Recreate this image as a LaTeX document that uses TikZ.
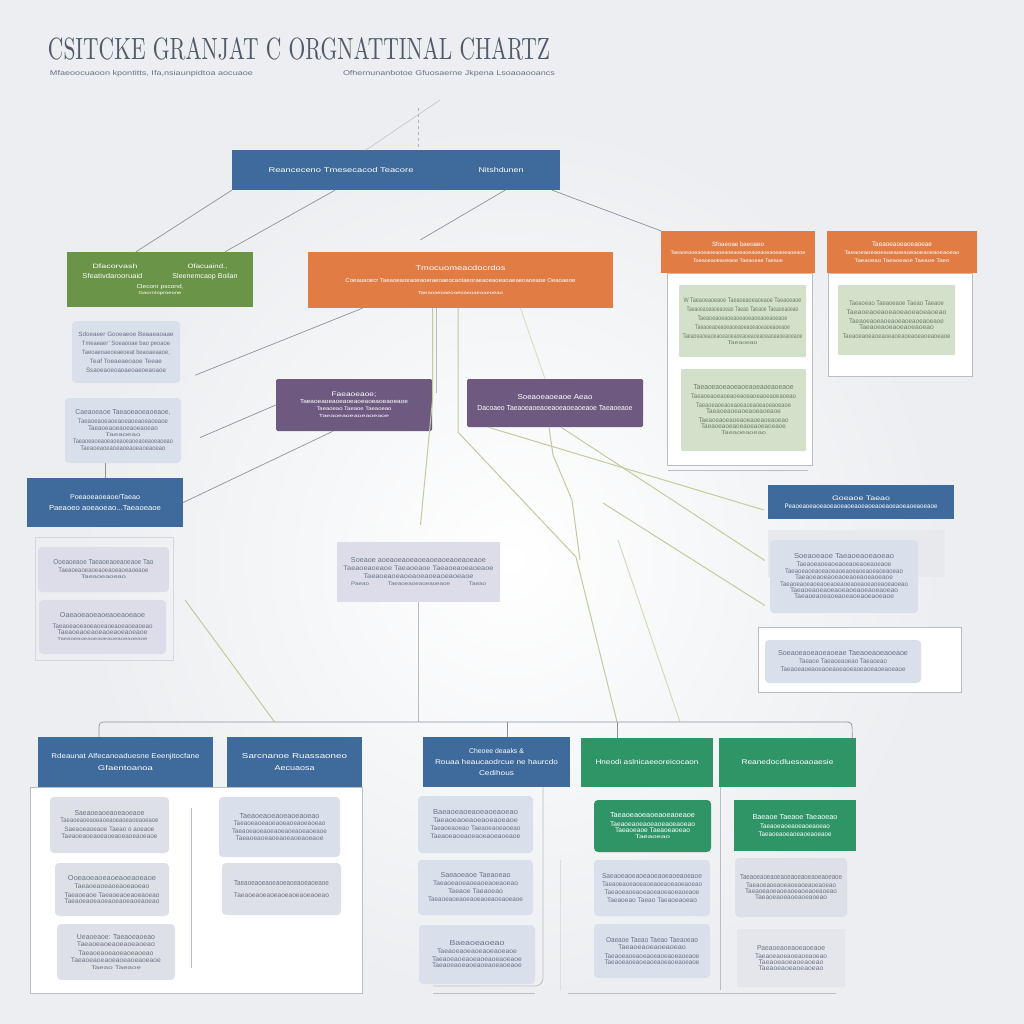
\documentclass[tikz,border=0pt]{standalone}
\usepackage{fontspec}
\setmainfont{Liberation Sans}
\usepackage{graphicx}
\usetikzlibrary{calc}
\newcommand\txl[3][4.5]{\resizebox{#2pt}{#1pt}{#3}}
\definecolor{cBg}{HTML}{ECEEF1}
\definecolor{cBlue}{HTML}{3E6A9C}
\definecolor{cGreen}{HTML}{6A9447}
\definecolor{cOrange}{HTML}{E17C45}
\definecolor{cPurple}{HTML}{6E5A80}
\definecolor{cTeal}{HTML}{2F9566}
\definecolor{cCard}{HTML}{D9DFEB}
\definecolor{cLav}{HTML}{DCDDE9}
\definecolor{cGCard}{HTML}{D3E1CA}
\definecolor{cGray}{HTML}{DDE0E6}
\definecolor{cTxt}{HTML}{6A7284}
\definecolor{cGTxt}{HTML}{6A7D68}
\definecolor{cLine}{HTML}{8C929C}
\definecolor{cGLine}{HTML}{C3CB9C}
\definecolor{cFrame}{HTML}{B8BDC6}
\definecolor{cTitle}{HTML}{525A6A}
\tikzset{
  dk/.style={inner sep=0pt, align=center, text=white, font=\fontsize{4}{10}\selectfont},
  bluebox/.style={dk, fill=cBlue},
  greenbox/.style={dk, fill=cGreen},
  orangebox/.style={dk, fill=cOrange},
  purplebox/.style={dk, fill=cPurple, rounded corners=1.5pt},
  tealbox/.style={dk, fill=cTeal},
  card/.style={inner sep=0pt, align=center, text=cTxt, fill=cCard, rounded corners=4pt, font=\fontsize{4}{10}\selectfont},
  lav/.style={card, fill=cLav},
  gcard/.style={card, fill=cGCard, text=cGTxt},
  graycard/.style={card, fill=cGray},
  tcard/.style={card, fill=cTeal, text=white},
  conn/.style={draw=cLine, line width=0.7pt},
  gconn/.style={draw=cGLine, line width=1pt},
  frame/.style={draw=cFrame, line width=0.8pt},
}
\begin{document}
\begin{tikzpicture}[x=1pt,y=-1pt]
\useasboundingbox (0,0) rectangle (1024,1024);
\fill[cBg] (0,0) rectangle (1024,1024);
\shade[inner color=white, outer color=cBg] (80,120) rectangle (944,1000);

% title
\node[inner sep=0pt, text=cTitle] (title) at (299,49) {\resizebox{502pt}{22pt}{\fontfamily{lmr}\selectfont CSITCKE GRANJAT C ORGNATTINAL CHARTZ}};
\node[inner sep=0pt, text=cTxt] (sub1) at (151.5,73.5) {\txl[5]{203}{Mfaeoocuaoon kpontitts, Ifa,nsiaunpidtoa aocuaoe}};
\node[inner sep=0pt, text=cTxt] (sub2) at (449,73.5) {\txl[5]{212}{Ofhernunanbotoe Gfuosaerne Jkpena Lsoaoaooancs}};

% frames (panels)
\draw[frame, fill=white] (667,273) rectangle (812,465);
\draw[frame] (668,470) -- (808,470);
\draw[frame, fill=white] (828,273) rectangle (972,376);
\draw[frame, fill=white] (758,627) rectangle (961,692);
\fill[cGray!70] (768,530) rectangle (945,577);
\draw[frame, draw=cFrame!60] (35,537) rectangle (173,660);
\draw[frame, fill=white] (30,787) rectangle (362,993);
\draw[frame] (191,808) -- (191,968);
\draw[frame] (543,787) -- (543,978) arc[start angle=0,end angle=90,radius=8] -- (433,986);
\draw[frame] (433,993) -- (535,993);
\draw[frame] (568,993) -- (836,993);
\draw[frame] (720,787) -- (720,990);
\draw[frame, draw=cFrame!50] (560,860) -- (560,990);

% top
\node[bluebox, minimum width=328pt, minimum height=40pt] (top) at (396,170)
 {\txl[5]{145}{Reanceceno Tmesecacod Teacore}\hspace{65pt}\txl[5]{45}{Nitshdunen}};
\node[greenbox, minimum width=186pt, minimum height=55pt] (grn) at (160,279.5)
 {\txl{45}{Dfacorvash}\hspace{50pt}\txl{40}{Ofacuaind.,}\\
  \txl[5]{60}{Sfeativdarooruaid}\hspace{30pt}\txl[5]{65}{Sleenemcaop Boilan}\\
  \txl[4]{47}{Cleconr pscond,}\\[-4pt] \txl[3]{43}{Gaorntoproeone}};
\node[orangebox, minimum width=305pt, minimum height=56pt] (org) at (460.5,280)
 {\txl[5]{90}{Tmocuomeacdocrdos}\\[2pt]
  \txl[4]{230}{Coeauaoecr Taeaoeaoeaoeaoeraeoaeocaotaeoraeaoeaoeaoaeaeoaoeaoe Oeaoaeoe}\\[2pt]
  \txl[3]{85}{Taeaoaeoaeoaeoaeoaeoaeoeao}};
\node[orangebox, minimum width=154pt, minimum height=42pt] (or1) at (738,252)
 {\txl{52}{Sfoaeoae baeoaeo}\\[-2pt]
  \txl[3.5]{135}{Taeaoeaoeaoeaoeaoeaoeaoeaoeaoeaoeaoeaoeaoeaoe}\\[-2pt]
  \txl[3.5]{90}{Toeaoeaoeaoeaoe Taeaoeae Taeaoe}};
\node[orangebox, minimum width=150pt, minimum height=42pt] (or2) at (902,252)
 {\txl{60}{Taeaoeaoeaoeaoeae}\\[-2pt]
  \txl[3.5]{115}{Taeaoeaoeaoeaoeaoeaoeaoeaoeaoeaoeao}\\[-2pt]
  \txl[3.5]{95}{Taeaoeao Taeaoeaoe Taeaoe Taeo}};
\node[gcard, minimum width=127pt, minimum height=72pt, rounded corners=1pt] (g1) at (742.5,321)
 {\txl{118}{W Taeaoeaoeaoe Taeaoeaoeaoeaoe Taeaoeaoe}\\[-1pt]
  \txl{112}{Taeaoeaoeaoeaoeao Taeao Taeaoe Taeaoeaoeao}\\[-1pt]
  \txl{90}{Taeaoeaoeaoeaoeaoeaoeaoeaoeaoe}\\[-1pt]
  \txl{95}{Taeaoeaoeaoeaoeaoeaoeaoeaoeaoeaoe}\\[-1pt]
  \txl{120}{Taeaoeaoeaoeaoeaoeaoeaoeaoeaoeaoeaoeaoeaoe}\\[-4pt]
  \txl[3.5]{30}{Taeaoeao}};
\node[gcard, minimum width=125pt, minimum height=82pt, rounded corners=1pt] (g2) at (743.5,410)
 {\txl[5]{100}{Taeaoeaoeaoeaoeaoeaoeaoeaoe}\\[-1pt]
  \txl{105}{Taeaoeaoeaoeaoeaoeaoeaoeaoeaoeao}\\[-1pt]
  \txl{95}{Taeaoeaoeaoeaoeaoeaoeaoeaoeaoe}\\[-4pt]
  \txl{75}{Taeaoeaoeaoeaoeaoeaoe}\\[-1pt]
  \txl{90}{Taeaoeaoeaoeaoeaoeaoeaoeao}\\[-4pt]
  \txl{85}{Taeaoeaoeaoeaoeaoeaoeaoe}\\[-4pt]
  \txl[3.5]{45}{Taeaoeaoeao}};
\node[gcard, minimum width=117pt, minimum height=70pt, rounded corners=1pt] (g3) at (896.5,320)
 {\txl{95}{Taeaoeao Taeaoeaoe Taeao Taeaoe}\\[-1pt]
  \txl{100}{Taeaoeaoeaoeaoeaoeaoeaoeao}\\[-1pt]
  \txl{95}{Taeaoeaoeaoeaoeaoeaoeaoeaoe}\\[-4pt]
  \txl{75}{Taeaoeaoeaoeaoeaoeao}\\[-1pt]
  \txl{108}{Taeaoeaoeaoeaoeaoeaoeaoeaoeaoeaoe}};

\node[purplebox, minimum width=156pt, minimum height=52pt] (p1) at (354,405)
 {\txl{45}{Faeaoeaoe;}\\[-3pt]
  \txl[4]{108}{Taeaoeaoeaoeaoeaoeaoeaoeaoeaoe}\\[-3pt]
  \txl[3.5]{75}{Taeaoeao Taeaoe Taeaoeao}\\[-3pt]
  \txl[3]{70}{Taeaoeaoeaoeaoeaoe}};
\node[purplebox, minimum width=176pt, minimum height=48pt] (p2) at (555,403)
 {\txl[5]{75}{Soeaoeaoeaoe Aeao}\\[1pt]
  \txl[5]{155}{Dacoaeo Taeaoeaoeaoeaoeaoeaoeaoe Taeaoeaoe}};

% left column
\node[card, minimum width=108pt, minimum height=62pt] (L1) at (126,352)
 {\txl{95}{Sdoeaeer Gooeaeoe Beaaeaoaae}\\[-1pt]
  \txl{88}{Tmeaeaer' Soeaooae bao peoaoe}\\[-1pt]
  \txl{88}{Taeoaeoaeoeaeoeat beaoaeaaoe,}\\[-1pt]
  \txl{72}{Teaf Toeaeaeoaoe Teeae}\\[-1pt]
  \txl{80}{Ssaoeaoeoaoaeoaeoeaoaoe}};
\node[card, minimum width=116pt, minimum height=65pt] (L2) at (123,430.5)
 {\txl[5]{95}{Caeaoeaoe Taeaoeaoeaoeaoe,}\\[-1pt]
  \txl{90}{Taeaoeaoeaoeaoeaoeaoeaoeaoe}\\[-3pt]
  \txl{70}{Taeaoeaoeaoeaoeaoeao}\\[-4pt]
  \txl[3.5]{35}{Taeaoeao}\\[-3pt]
  \txl{100}{Taeaoeaoeaoeaoeaoeaoeaoeaoeaoeao}\\[-3pt]
  \txl{85}{Taeaoeaoeaoeaoeaoeaoeaoeao}};
\node[bluebox, minimum width=156pt, minimum height=49pt] (bL) at (105,502.5)
 {\txl[5]{70}{Poeaoeaoeaoe/Taeao}\\[1pt]
  \txl[5]{112}{Paeaoeo aoeaoeao...Taeaoeaoe}};
\node[lav, minimum width=131pt, minimum height=45pt] (L3) at (103.5,569.5)
 {\txl[5]{100}{Ooeaoeaoe Taeaoeaoeaoeaoe Tao}\\[-2pt]
  \txl{90}{Taeaoeaoeaoeaoeaoeaoeaoeaoe}\\[-4pt]
  \txl[3.5]{45}{Taeaoeaoeao}};
\node[lav, minimum width=127pt, minimum height=54pt] (L4) at (102.5,627)
 {\txl[5]{85}{Oaeaoeaoeaoeaoeaoeaoe}\\[1pt]
  \txl{100}{Taeaoeaoeaoeaoeaoeaoeaoeaoeao}\\[-4pt]
  \txl{90}{Taeaoeaoeaoeaoeaoeaoeaoe}\\[-4pt]
  \txl[3]{90}{Taeaoeaoeaoeaoeaoeaoeaoeaoe}};

% middle card
\node[lav, rounded corners=0pt, minimum width=163pt, minimum height=60pt] (M) at (418.5,572)
 {\txl[5]{135}{Soeaoe aoeaoeaoeaoeaoeaoeaoeaoeaoe}\\[-2pt]
  \txl{150}{Taeaoeaoeaoe Taeaoeaoe Taeaoeaoeaoeaoe}\\[-2pt]
  \txl{110}{Taeaoeaoeaoeaoeaoeaoeaoeaoe}\\[-3pt]
  \txl[3.5]{135}{Paeao\hspace{3em}Taeaoeaoeaoeaoeaoe\hspace{3em}Taeao}};

% right side
\node[bluebox, minimum width=186pt, minimum height=34pt] (bR) at (861,502)
 {\txl{58}{Goeaoe Taeao}\\[-2pt]
  \txl{153}{Peaoeaoeaoeaoeaoeaoeaoeaoeaoeaoeaoeaoeaoeaoe}};
\node[card, minimum width=148pt, minimum height=73pt] (R1) at (844,576.5)
 {\txl[5]{100}{Soeaoeaoe Taeaoeaoeaoeao}\\[-2pt]
  \txl{95}{Taeaoeaoeaoeaoeaoeaoeaoeaoe}\\[-3pt]
  \txl{118}{Taeaoeaoeaoeaoeaoeaoeaoeaoeaoeaoeao}\\[-4pt]
  \txl{98}{Taeaoeaoeaoeaoeaoeaoeaoeaoe}\\[-3pt]
  \txl{128}{Taeaoeaoeaoeaoeaoeaoeaoeaoeaoeaoeaoeao}\\[-4pt]
  \txl{108}{Taeaoeaoeaoeaoeaoeaoeaoeaoeao}\\[-4pt]
  \txl{100}{Taeaoeaoeaoeaoeaoeaoeaoeaoe}};
\node[card, minimum width=156pt, minimum height=43pt] (R2) at (843,661.5)
 {\txl[5]{130}{Soeaoeaoeaoeaoeae Taeaoeaoeaoeaoe}\\[-2pt]
  \txl{88}{Taeaoe Taeaoeaoeao Taeaoeao}\\[-2pt]
  \txl{125}{Taeaoeaoeaoeaoeaoeaoeaoeaoeaoeaoeaoe}};

% bottom header boxes
\node[bluebox, minimum width=175pt, minimum height=50pt] (B1) at (125.5,762)
 {\txl[5]{148}{Rdeaunat Alfecanoaduesne Eeenjitocfane}\\[2pt]
  \txl[5]{55}{Gfaentoanoa}};
\node[bluebox, minimum width=135pt, minimum height=50pt] (B2) at (294.5,762)
 {\txl[5]{105}{Sarcnanoe Ruassaoneo}\\[2pt]
  \txl[5]{40}{Aecuaosa}};
\node[bluebox, minimum width=147pt, minimum height=50pt] (B3) at (496.5,762)
 {\txl[5]{55}{Cheoee deaaks \&}\\[1pt]
  \txl[5]{123}{Rouaa heaucaodrcue ne haurcdo}\\[1pt]
  \txl[5]{35}{Cedihous}};
\node[tealbox, minimum width=132pt, minimum height=49pt] (G1) at (647,762.5)
 {\txl[5]{103}{Hneodi aslnicaeeoreicocaon}};
\node[tealbox, minimum width=137pt, minimum height=49pt] (G2) at (787.5,762.5)
 {\txl[5]{92}{Reanedocdluesoaoaesie}};

% bottom cards
\node[graycard, minimum width=119pt, minimum height=56pt] (C1a) at (109.5,825)
 {\txl[5]{70}{Saeaoeaoeaoeaoeaoe}\\[-3pt]
  \txl{98}{Taeaoeaoeaoeaoeaoeaoeaoeaoeaoe}\\[-1pt]
  \txl{90}{Saeaoeaoeaoe Taeao o aoeaoe}\\[-3pt]
  \txl{96}{Taeaoeaoeaoeaoeaoeaoeaoeaoe}};
\node[graycard, minimum width=114pt, minimum height=53pt] (C1b) at (112,889.5)
 {\txl[5]{88}{Ooeaoeaoeaoeaoeaoeaoe}\\[-2pt]
  \txl{75}{Taeaoeaoeaoeaoeaoeao}\\[-1pt]
  \txl{95}{Taeaoeaoe Taeaoeaoeaoeaoeao}\\[-4pt]
  \txl{95}{Taeaoeaoeaoeaoeaoeaoeaoeao}};
\node[graycard, minimum width=118pt, minimum height=56pt] (C1c) at (116,952)
 {\txl[5]{78}{Ueaoeaoe: Taeaoeaoeao}\\[-3pt]
  \txl{78}{Taeaoeaoeaoeaoeaoeao}\\[-1pt]
  \txl{75}{Taeaoeaoeaoeaoeaoeao}\\[-3pt]
  \txl{90}{Taeaoeaoeaoeaoeaoeaoeaoe}\\[-3pt]
  \txl[3.5]{50}{Taeao Taeaoe}};
\node[card, minimum width=121pt, minimum height=60pt] (C2a) at (279.5,827)
 {\txl[5]{80}{Taeaoeaoeaoeaoeaoeao}\\[-3pt]
  \txl{92}{Taeaoeaoeaoeaoeaoeaoeaoeao}\\[-2pt]
  \txl{95}{Taeaoeaoeaoeaoeaoeaoeaoeaoe}\\[-3pt]
  \txl{88}{Taeaoeaoeaoeaoeaoeaoeaoe}};
\node[graycard, minimum width=119pt, minimum height=52pt] (C2b) at (281.5,889)
 {\txl[5]{95}{Taeaoeaoeaoeaoeaoeaoeaoeaoe}\\[2pt]
  \txl{95}{Taeaoeaoeaoeaoeaoeaoeaoeao}};
\node[card, minimum width=115pt, minimum height=57pt] (C3a) at (475.5,824.5)
 {\txl[5]{85}{Baeaoeaoeaoeaoeaoeao}\\[-2pt]
  \txl{85}{Taeaoeaoeaoeaoeaoeaoe}\\[-2pt]
  \txl{90}{Taeaoeaoeao Taeaoeaoeaoeao}\\[-2pt]
  \txl{90}{Taeaoeaoeaoeaoeaoeaoeaoe}};
\node[card, minimum width=115pt, minimum height=55pt] (C3b) at (475.5,887.5)
 {\txl[5]{70}{Saeaoeaoe Taeaoeao}\\[-2pt]
  \txl{85}{Taeaoeaoeaoeaoeaoeaoeao}\\[-2pt]
  \txl{55}{Taeaoe Taeaoeao}\\[-2pt]
  \txl{95}{Taeaoeaoeaoeaoeaoeaoeaoeaoe}};
\node[card, minimum width=116pt, minimum height=59pt] (C3c) at (477,954.5)
 {\txl[5]{55}{Baeaoeaoeao}\\[-2pt]
  \txl{80}{Taeaoeaoeaoeaoeaoeaoe}\\[-2pt]
  \txl{90}{Taeaoeaoeaoeaoeaoeaoeaoe}\\[-4pt]
  \txl{90}{Taeaoeaoeaoeaoeaoeaoeaoe}};
\node[tcard, minimum width=117pt, minimum height=52pt] (G1a) at (652.5,826)
 {\txl[5]{85}{Taeaoeaoeaoeaoeaoeaoe}\\[-1pt]
  \txl{85}{Taeaoeaoeaoeaoeaoeaoeao}\\[-4pt]
  \txl{75}{Taeaoeaoe Taeaoeaoeao}\\[-4pt]
  \txl[3.5]{35}{Taeaoeao}};
\node[card, minimum width=116pt, minimum height=56pt] (G1b) at (652,888)
 {\txl[5]{100}{Saeaoeaoeaoeaoeaoeaoeaoeaoe}\\[-2pt]
  \txl{100}{Taeaoeaoeaoeaoeaoeaoeaoeaoeao}\\[-2pt]
  \txl{95}{Taeaoeaoeaoeaoeaoeaoeaoeaoe}\\[-2pt]
  \txl{90}{Taeaoeao Taeao Taeaoeaoeao}};
\node[card, minimum width=116pt, minimum height=54pt] (G1c) at (652,951)
 {\txl[5]{92}{Oaeaoe Taeao Taeao Taeaoeao}\\[-3pt]
  \txl{68}{Taeaoeaoeaoeaoeao}\\[-1pt]
  \txl{95}{Taeaoeaoeaoeaoeaoeaoeaoeaoe}\\[-4pt]
  \txl{95}{Taeaoeaoeaoeaoeaoeaoeaoeaoe}};
\node[tcard, rounded corners=0pt, minimum width=122pt, minimum height=51pt] (G2a) at (795,825.5)
 {\txl[5]{85}{Baeaoe Taeaoe Taeaoeao}\\[-1pt]
  \txl{70}{Taeaoeaoeaoeaoeaoeao}\\[-2pt]
  \txl{73}{Taeaoeaoeaoeaoeaoeaoe}};
\node[graycard, minimum width=112pt, minimum height=59pt] (G2b) at (791,887.5)
 {\txl[5]{102}{Taeaoeaoeaoeaoeaoeaoeaoeaoeaoe}\\[-2pt]
  \txl{90}{Taeaoeaoeaoeaoeaoeaoeaoeao}\\[-4pt]
  \txl{92}{Taeaoeaoeaoeaoeaoeaoeaoeao}\\[-4pt]
  \txl{72}{Taeaoeaoeaoeaoeaoeao}};
\node[graycard, fill=cGray!80, minimum width=108pt, minimum height=58pt, rounded corners=1pt] (G2c) at (791,958)
 {\txl[5]{68}{Paeaoeaoeaoeaoeaoe}\\[-2pt]
  \txl{72}{Taeaoeaoeaoeaoeaoeao}\\[-4pt]
  \txl{65}{Taeaoeaoeaoeaoeao}\\[-4pt]
  \txl{65}{Taeaoeaoeaoeaoeao}};

% connectors
\coordinate (tip) at (440,100);
\coordinate (mark) at (418,108);
\coordinate (busR) at (852,722);
\draw[conn, draw=cLine!50] (366,150) -- (tip);
\draw[conn, dashed, draw=cLine!70] (mark) -- ([xshift=22pt]top.north);
\draw[conn] (top.south west) -- ([xshift=-24pt]grn.north);
\draw[conn] ([xshift=-61pt]top.south) -- ([xshift=65pt]grn.north);
\draw[conn] ([xshift=109pt]top.south) -- ([xshift=-40pt,yshift=12pt]org.north);
\draw[conn] ([xshift=-8pt]top.south east) -- (or1.north west);
\draw[conn] ([xshift=-98pt]org.south) -- ($(L1.south east)+(15,-8)$);
\draw[conn] (p1.west) -- ($(L2.east)+(19,7)$);
\draw[conn] ([xshift=-21pt]p1.south) -- (bL.east);
\draw[conn] (L2.south -| bL.north) -- (bL.north);
\draw[gconn] ([xshift=-28pt]org.south) -- ++(0,92) -- ($(M.north)+(2,-17)$);
\draw[conn, draw=cLine!60] ([xshift=-24pt]org.south) -- ++(0,85);
\draw[gconn, draw=cGLine!60] ([xshift=60pt]org.south) -- ([xshift=-10pt]p2.north);
\draw[gconn] ([xshift=-2.5pt]org.south) -- ++(0,124) -- (576,557) -- ([xshift=-30pt,yshift=16pt]G1.north);
\draw[gconn] ([xshift=-6pt]p2.south) -- (553,455) -- (572,500) -- (580,560);
\draw[gconn] ([xshift=-67pt]p2.south) -- ($(bR.west)+(-4,8)$);
\draw[gconn] ([xshift=6pt]p2.south) -- ($(R1.west)+(-5,-16)$);
\draw[gconn] (603,503) -- ($(R1.west)+(-5,29)$);
\draw[gconn, draw=cGLine!70] (618,540) -- ([xshift=33pt,yshift=16pt]G1.north);
\draw[gconn] ($(L4.south east)+(19,-54)$) -- ([xshift=-20pt,yshift=15pt]B2.north);
\draw[conn, draw=cLine!60] (M.south) -- ++(0,120);
\draw[conn, rounded corners=4pt] ([xshift=-26.5pt]B1.north) |- (busR) -- ([xshift=-4pt]G2.north east);
\draw[conn] ([xshift=10.5pt]B3.north) -- ++(0,-15);
\draw[conn] ([xshift=-30pt]G1.north) -- ++(0,-16);
\end{tikzpicture}
\end{document}
